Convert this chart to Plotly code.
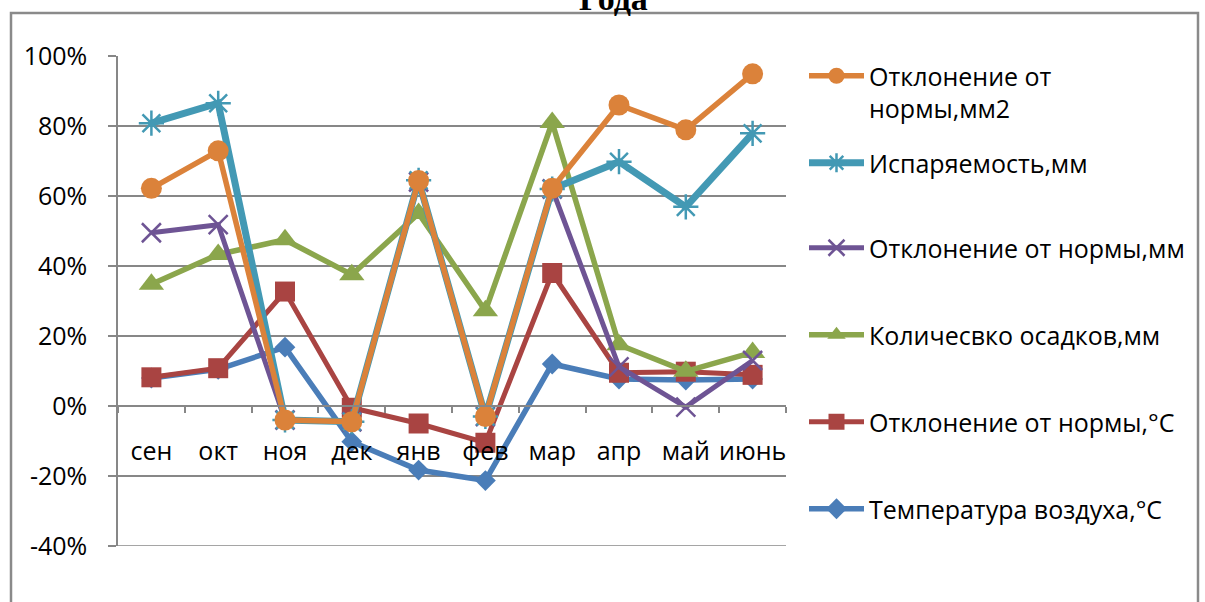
import plotly.graph_objects as go

months = ['сен', 'окт', 'ноя', 'дек', 'янв', 'фев', 'мар', 'апр', 'май', 'июнь']

temp_air = [8.0, 10.5, 16.8, -10.2, -18.3, -21.3, 12.0, 7.7, 7.4, 7.7]
dev_temp = [8.2, 10.8, 32.7, -0.5, -5.0, -10.5, 38.0, 9.5, 9.8, 8.9]
precip = [34.8, 43.3, 47.5, 37.5, 55.0, 27.2, 81.0, 17.5, 9.9, 15.3]
dev_mm = [49.5, 51.8, -4.0, -4.5, 64.0, -3.0, 62.0, 11.2, -0.3, 13.0]
evap = [80.8, 86.5, -4.0, -4.5, 64.5, -3.0, 62.0, 69.8, 56.9, 77.9]
dev_mm2 = [62.2, 72.9, -4.0, -4.5, 64.4, -3.0, 62.2, 86.0, 78.9, 94.9]

y_tickvals = [-40, -20, 0, 20, 40, 60, 80, 100]
y_ticktext = ['-40%', '-20%', '0%', '20%', '40%', '60%', '80%', '100%']

names = {
    'dev_mm2': 'Отклонение от<br>нормы,мм2',
    'evap': 'Испаряемость,мм',
    'dev_mm': 'Отклонение от нормы,мм',
    'precip': 'Количесвко осадков,мм',
    'dev_temp': 'Отклонение от нормы,°C',
    'temp_air': 'Температура воздуха,°C',
}

FONT = 'Open Sans'
FS = 25
GRID = '#878787'

# plot area in pixels
PX0, PX1, PY0, PY1 = 118, 786, 56, 546
W, H = 1205, 602

def px_x(px):
    return (px - PX0) / (PX1 - PX0)

def px_y(py):
    return (PY1 - py) / (PY1 - PY0)

fig = go.Figure()

series = [
    ('temp_air', temp_air, '#4A7DB8', 5.5, dict(symbol='diamond', size=16), 'legend6'),
    ('dev_temp', dev_temp, '#A94442', 5, dict(symbol='square', size=20), 'legend5'),
    ('precip', precip, '#8BA64C', 5.5, dict(symbol='triangle-up', size=22), 'legend4'),
    ('dev_mm', dev_mm, '#6E5494', 5, dict(symbol='x-thin-open', size=19, line=dict(width=2.5)), 'legend3'),
    ('evap', evap, '#4399B4', 7, dict(symbol='asterisk-open', size=21, line=dict(width=2.5)), 'legend2'),
    ('dev_mm2', dev_mm2, '#DB823A', 5.5, dict(symbol='circle', size=21), 'legend'),
]

for key, vals, color, lw, mk, leg in series:
    marker = dict(color=color, **mk)
    if 'line' in mk:
        marker['line'] = dict(color=color, width=mk['line']['width'])
    fig.add_trace(go.Scatter(
        x=months, y=vals, name=names[key], mode='lines+markers',
        line=dict(color=color, width=lw), marker=marker, legend=leg,
    ))

legend_common = dict(
    x=px_x(804), xanchor='left', font=dict(family=FONT, size=FS, color='#000000'),
    bgcolor='rgba(0,0,0,0)', itemwidth=55, itemclick=False,
)
legend_centers = {'legend2': 163, 'legend3': 248, 'legend4': 335, 'legend5': 422, 'legend6': 509}

layout_legends = {'legend': dict(legend_common, y=px_y(53), yanchor='top', valign='top')}
for k, cy in legend_centers.items():
    layout_legends[k] = dict(legend_common, y=px_y(cy), yanchor='middle')

fig.update_layout(
    width=W, height=H,
    margin=dict(l=PX0, r=W - PX1, t=PY0, b=H - PY1, pad=0, autoexpand=False),
    paper_bgcolor='white', plot_bgcolor='white',
    font=dict(family=FONT, size=FS, color='#000000'),
    showlegend=True,
    **layout_legends,
)

fig.update_xaxes(
    type='category', range=[-0.5, 9.5], anchor='free', position=40 / 140,
    showline=True, linecolor=GRID, linewidth=1.5, automargin=False,
    ticks='outside', tickson='boundaries', ticklen=6, tickcolor=GRID, tickwidth=1.5,
    showgrid=False, ticklabelstandoff=23, tickangle=0,
    tickfont=dict(family=FONT, size=FS, color='#000000'),
)
fig.update_yaxes(
    range=[-40, 100], tickvals=y_tickvals, ticktext=y_ticktext,
    showline=True, linecolor=GRID, linewidth=1.5, automargin=False,
    ticks='outside', ticklen=8, tickcolor=GRID, tickwidth=1.5,
    showgrid=True, gridcolor=GRID, gridwidth=1.5, zeroline=False,
    ticklabelstandoff=16,
    tickfont=dict(family=FONT, size=FS, color='#000000'),
)

# bottom gridline at -40%
fig.add_shape(type='line', xref='paper', yref='y', x0=0, x1=1, y0=-40, y1=-40,
              line=dict(color=GRID, width=1.5), layer='below')

# chart frame
fig.add_shape(type='rect', xref='paper', yref='paper',
              x0=px_x(11), x1=px_x(1198), y0=px_y(640), y1=px_y(13),
              line=dict(color='#8A8A8A', width=2.5), fillcolor='rgba(0,0,0,0)', layer='below')

# title (cropped at top edge)
fig.add_annotation(text='<b>Года</b>', xref='paper', yref='paper',
                   x=px_x(613), y=px_y(19), xanchor='center', yanchor='bottom',
                   showarrow=False, font=dict(family='Liberation Serif', size=34, color='#000000'))

fig.write_html('out.html', config={'displayModeBar': False},
               post_script="document.body.style.margin='0';")
